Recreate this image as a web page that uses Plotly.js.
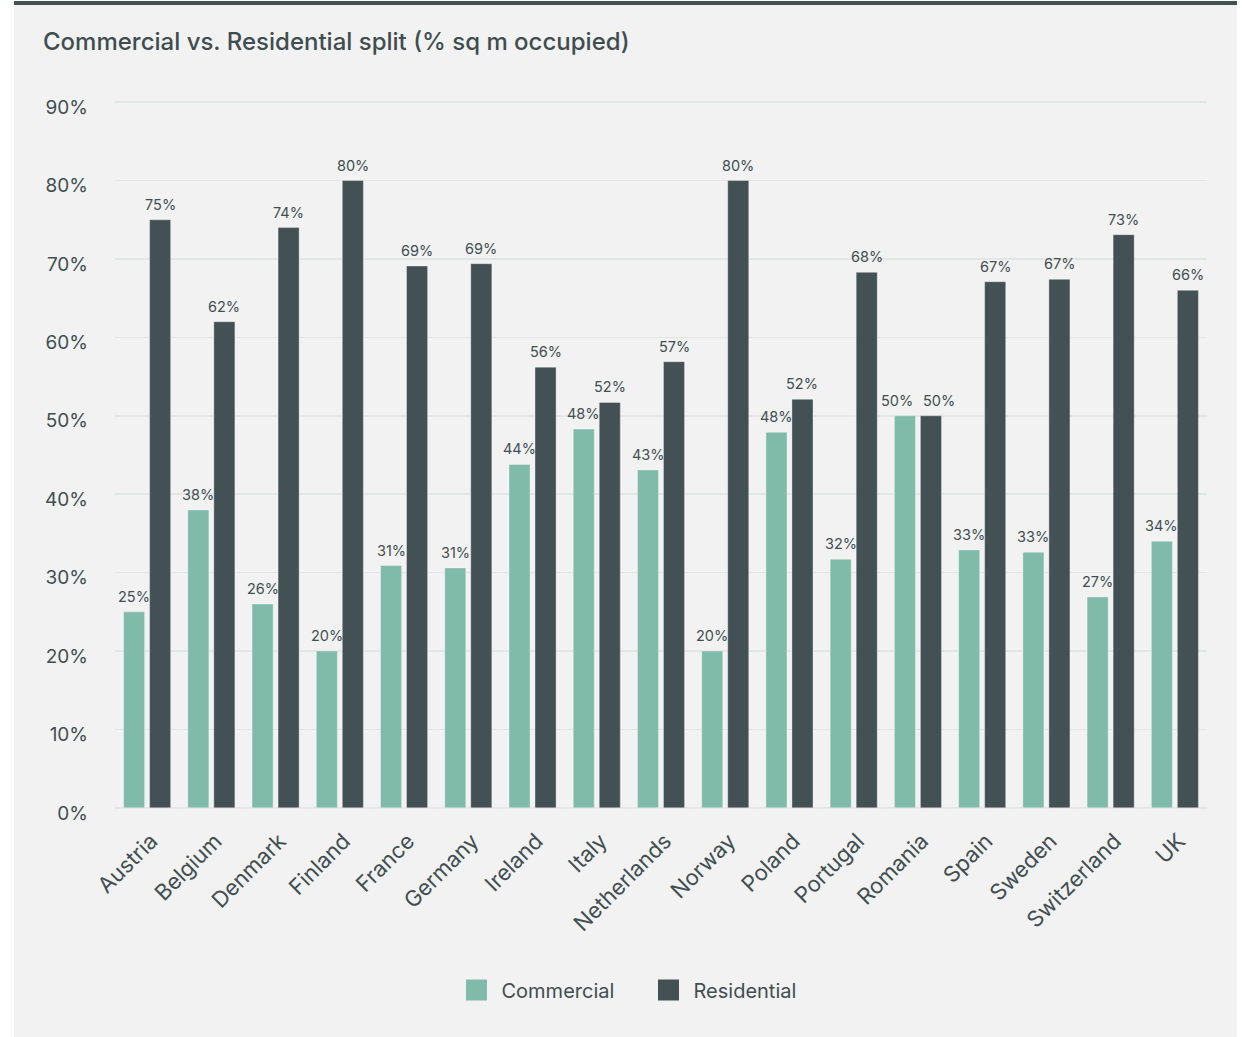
<!DOCTYPE html>
<html>
<head>
<meta charset="utf-8">
<script src="https://cdn.plot.ly/plotly-3.0.1.min.js"></script>
<style>
  html, body { margin: 0; padding: 0; background: #ffffff; width: 1242px; height: 1037px; overflow: hidden; }
  #wrap { position: absolute; left: 14px; top: 1px; width: 1223px; height: 1034px; background: #f2f2f2; border-top: 4px solid #435155; }
  #chart { width: 1223px; height: 1030px; }
</style>
</head>
<body>
<div id="wrap"><div id="chart"></div></div>
<script>
const countries = ["Austria","Belgium","Denmark","Finland","France","Germany","Ireland","Italy","Netherlands","Norway","Poland","Portugal","Romania","Spain","Sweden","Switzerland","UK"];
const commercial = [25, 38, 26, 20, 30.9, 30.6, 43.8, 48.3, 43.1, 20, 47.9, 31.7, 50, 32.9, 32.6, 26.9, 34];
const residential = [75, 62, 74, 80, 69.1, 69.4, 56.2, 51.7, 56.9, 80, 52.1, 68.3, 50, 67.1, 67.4, 73.1, 66];
const yTickVals = [0, 10, 20, 30, 40, 50, 60, 70, 80, 90];
const yTickText = ["0%", "10%", "20%", "30%", "40%", "50%", "60%", "70%", "80%", "90%"];
const seriesNames = ["Commercial", "Residential"];
const seriesColors = ["#80bbaa", "#435155"];

const textColor = "#414e52";
const font = "Inter, 'Noto Sans', sans-serif";
const seriesValues = [commercial, residential];

const traces = [];
seriesValues.forEach((vals, i) => {
  traces.push({
    type: "bar", name: seriesNames[i], x: countries, y: vals,
    marker: { color: seriesColors[i], line: { color: "rgba(255,255,255,0.35)", width: 1 } },
    showlegend: false, hoverinfo: "x+y"
  });
});
// legend entries (larger square swatches)
seriesValues.forEach((vals, i) => {
  traces.push({
    type: "scatter", mode: "markers", name: seriesNames[i], x: [null], y: [null],
    marker: { symbol: "square", size: 16, color: seriesColors[i], line: { color: seriesColors[i], width: 5 } },
    showlegend: true, hoverinfo: "skip"
  });
});

// value labels above bars; when the two labels of a group sit at the same height, nudge them apart
const annotations = [];
seriesValues.forEach((vals, i) => {
  vals.forEach((v, j) => {
    const other = seriesValues[1 - i][j];
    const close = Math.abs(other - v) < 2.5;
    const base = i === 0 ? -13 : 13;
    annotations.push({
      x: countries[j], y: v, xref: "x", yref: "y",
      text: Math.round(v) + "%", showarrow: false,
      xanchor: "center", yanchor: "bottom",
      xshift: close ? base * 1.6 : base, yshift: 5,
      font: { family: font, size: 14.5, color: textColor }
    });
  });
});

const layout = {
  width: 1223, height: 1030,
  paper_bgcolor: "#f2f2f2", plot_bgcolor: "#f2f2f2",
  margin: { l: 101, r: 30, t: 94, b: 224 },
  font: { family: font, color: textColor },
  title: {
    text: "Commercial vs. Residential split (% sq m occupied)",
    font: { family: font, size: 24, color: "#3f4d51", weight: 500 },
    x: 29 / 1223, xanchor: "left", xref: "container",
    y: 1 - 37 / 1030, yanchor: "middle", yref: "container"
  },
  barmode: "group", bargap: 0.19, bargroupgap: 0.19,
  xaxis: {
    tickangle: -45, tickfont: { family: font, size: 22, color: textColor },
    showgrid: false, zeroline: false, showline: false, ticks: "", automargin: false,
    ticklabelstandoff: 12, ticklabelshift: 4
  },
  yaxis: {
    range: [-0.4, 90.4], tickvals: yTickVals, ticktext: yTickText,
    tickfont: { family: font, size: 19, color: textColor },
    showgrid: true, gridcolor: "#e2e6e5", gridwidth: 1.5,
    zeroline: false, showline: false, ticks: "", ticklabelstandoff: 26, ticklabelshift: 5,
    automargin: false
  },
  annotations: annotations,
  showlegend: true,
  legend: {
    orientation: "h", x: 0.5 + 18 / 1223, xanchor: "center", xref: "container",
    y: 1 - 985 / 1030, yanchor: "middle", yref: "container",
    font: { family: font, size: 20, color: textColor },
    bgcolor: "rgba(0,0,0,0)", itemwidth: 40, traceorder: "normal",
    entrywidth: 137, entrywidthmode: "pixels"
  }
};

Plotly.newPlot("chart", traces, layout, { displayModeBar: false, staticPlot: true });
</script>
</body>
</html>
